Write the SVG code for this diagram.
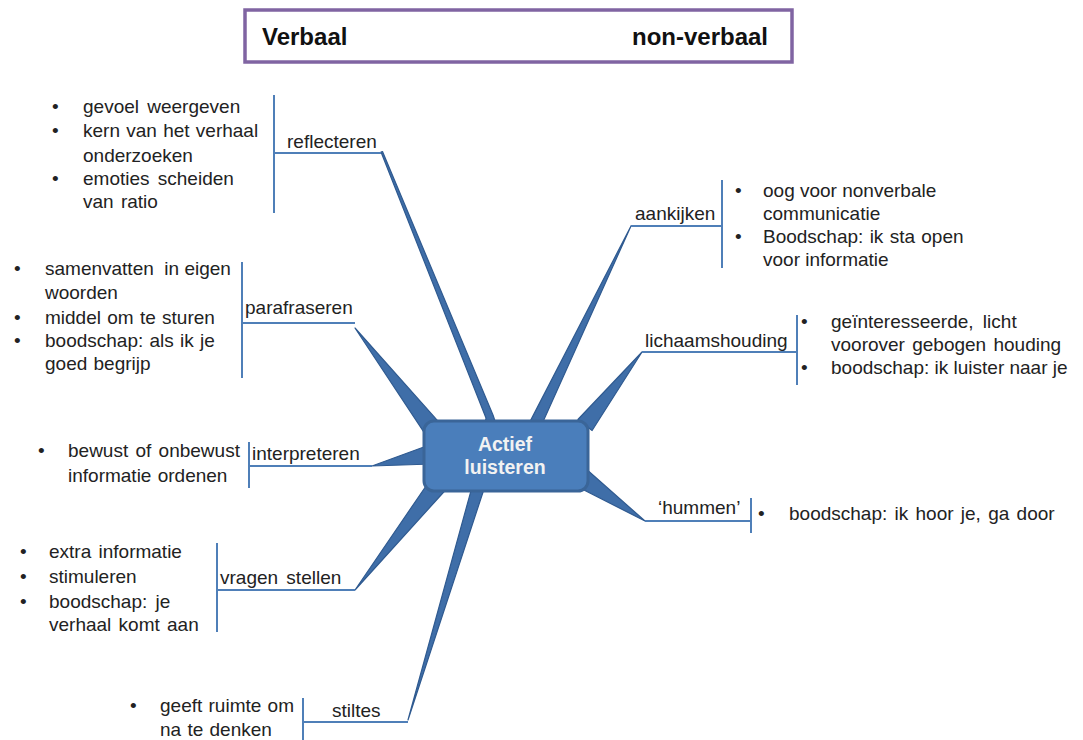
<svg xmlns="http://www.w3.org/2000/svg" width="1083" height="740" viewBox="0 0 1083 740">
<style>
  text { font-family: "Liberation Sans", Arial, sans-serif; fill: #222; }
  .t { font-size: 19px; }
  .lbl { font-size: 19px; }
  .hdr { font-size: 24px; font-weight: bold; fill: #111; }
  .ctr { font-size: 19.5px; font-weight: bold; fill: #f2f2f2; }
  .ln { stroke: #4f7fb8; stroke-width: 2; fill: none; }
  .spoke { fill: #3f6ea8; stroke: #2f5a90; stroke-width: 1.2; stroke-linejoin: round; }
</style>
<rect x="0" y="0" width="1083" height="740" fill="#ffffff"/>

<g id="header">
  <rect x="245" y="10" width="547" height="52" fill="#ffffff" stroke="#8064a2" stroke-width="3.5"/>
  <text class="hdr" x="262" y="45">Verbaal</text>
  <text class="hdr" x="768" y="45" text-anchor="end">non-verbaal</text>
</g>

<g id="connectors">
  <polygon class="spoke" points="381,152 382.5,151.5 493,415 495.6,422.8 484.4,427.2 486,418"/>
  <polygon class="spoke" points="631,226 540.4,427.6 529.6,422.4"/>
  <polygon class="spoke" points="642,352 592.1,430.5 577.9,419.5"/>
  <polygon class="spoke" points="355,328 439.1,422.4 424.9,433.6"/>
  <polygon class="spoke" points="372,466 432,444 432,464"/>
  <polygon class="spoke" points="355,590 444.2,491.5 429.8,480.5"/>
  <polygon class="spoke" points="408,720 483.8,489.7 472.2,486.3"/>
  <polygon class="spoke" points="645,521 585,468 578,487"/>

  <path class="ln" d="M274,95 V213 M274,153 H381"/>
  <path class="ln" d="M242,262 V378 M242,323 H355"/>
  <path class="ln" d="M249,442 V488 M249,466 H372"/>
  <path class="ln" d="M217,543 V632 M217,590 H355"/>
  <path class="ln" d="M303,698 V740 M303,722 H408"/>
  <path class="ln" d="M722,180 V268 M631,226 H722"/>
  <path class="ln" d="M797,315 V385 M642,352 H797"/>
  <path class="ln" d="M751,498 V533 M645,521 H751"/>
</g>

<g id="center">
  <rect x="424" y="421" width="164" height="70" rx="10" ry="10" fill="#4a7ebb" stroke="#3a6598" stroke-width="3"/>
  <text class="ctr" x="505" y="451" text-anchor="middle">Actief</text>
  <text class="ctr" x="505" y="474" text-anchor="middle">luisteren</text>
</g>

<g id="reflecteren">
  <text class="lbl" x="287" y="148">reflecteren</text>
  <text class="t" x="52" y="113">•</text><text class="t" x="83" y="113" word-spacing="3">gevoel weergeven</text>
  <text class="t" x="52" y="137">•</text><text class="t" x="83" y="137" word-spacing="1">kern van het verhaal</text>
  <text class="t" x="83" y="162">onderzoeken</text>
  <text class="t" x="52" y="185">•</text><text class="t" x="83" y="185" word-spacing="3">emoties scheiden</text>
  <text class="t" x="83" y="208" word-spacing="2">van ratio</text>
</g>

<g id="parafraseren">
  <text class="lbl" x="245" y="314">parafraseren</text>
  <text class="t" x="14" y="275">•</text><text class="t" x="45" y="275" xml:space="preserve">samenvatten  in eigen</text>
  <text class="t" x="45" y="299">woorden</text>
  <text class="t" x="14" y="324">•</text><text class="t" x="45" y="324" word-spacing="1">middel om te sturen</text>
  <text class="t" x="14" y="347">•</text><text class="t" x="45" y="347" word-spacing="1">boodschap: als ik je</text>
  <text class="t" x="45" y="370" word-spacing="1">goed begrijp</text>
</g>

<g id="interpreteren">
  <text class="lbl" x="252" y="460">interpreteren</text>
  <text class="t" x="38" y="457">•</text><text class="t" x="68" y="457" word-spacing="2">bewust of onbewust</text>
  <text class="t" x="68" y="482" word-spacing="1">informatie ordenen</text>
</g>

<g id="vragen-stellen">
  <text class="lbl" x="220" y="584" word-spacing="3">vragen stellen</text>
  <text class="t" x="20" y="558">•</text><text class="t" x="49" y="558" word-spacing="2">extra informatie</text>
  <text class="t" x="20" y="583">•</text><text class="t" x="49" y="583">stimuleren</text>
  <text class="t" x="20" y="608">•</text><text class="t" x="49" y="608" word-spacing="3">boodschap: je</text>
  <text class="t" x="49" y="631" word-spacing="2">verhaal komt aan</text>
</g>

<g id="stiltes">
  <text class="lbl" x="332" y="717">stiltes</text>
  <text class="t" x="130" y="712">•</text><text class="t" x="160" y="712" word-spacing="1">geeft ruimte om</text>
  <text class="t" x="160" y="736" word-spacing="1">na te denken</text>
</g>

<g id="aankijken">
  <text class="lbl" x="635" y="220">aankijken</text>
  <text class="t" x="735" y="197">•</text><text class="t" x="763" y="197">oog voor nonverbale</text>
  <text class="t" x="763" y="220">communicatie</text>
  <text class="t" x="735" y="243">•</text><text class="t" x="763" y="243" word-spacing="1">Boodschap: ik sta open</text>
  <text class="t" x="763" y="266">voor informatie</text>
</g>

<g id="lichaamshouding">
  <text class="lbl" x="645" y="347">lichaamshouding</text>
  <text class="t" x="801" y="328">•</text><text class="t" x="831" y="328" word-spacing="4">geïnteresseerde, licht</text>
  <text class="t" x="831" y="351" word-spacing="2">voorover gebogen houding</text>
  <text class="t" x="801" y="374">•</text><text class="t" x="831" y="374">boodschap: ik luister naar je</text>
</g>

<g id="hummen">
  <text class="lbl" x="658" y="514">‘hummen’</text>
  <text class="t" x="758" y="520">•</text><text class="t" x="789" y="520" word-spacing="2">boodschap: ik hoor je, ga door</text>
</g>
</svg>
